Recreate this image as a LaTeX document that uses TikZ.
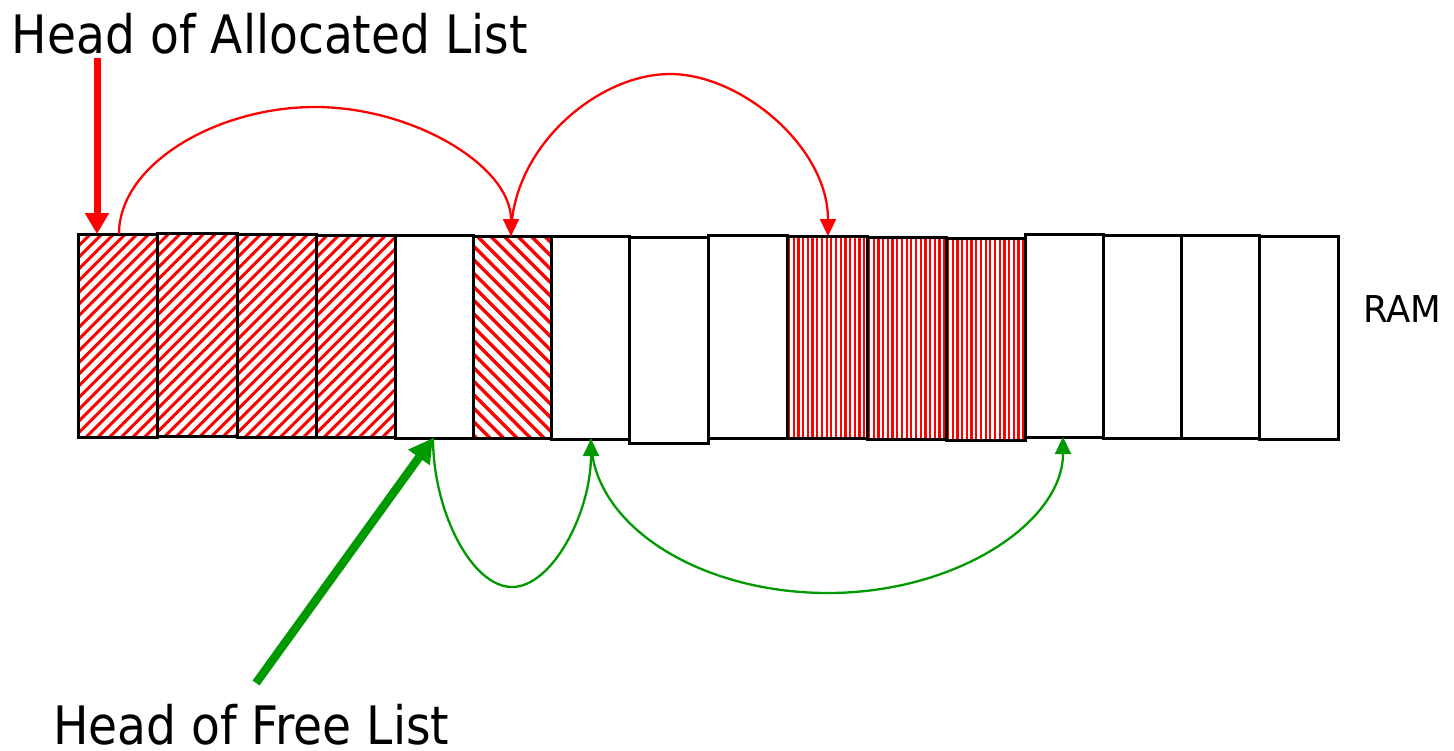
\documentclass[tikz,border=0pt]{standalone}
\usepackage{fontspec}
\newfontfamily\lblfont[FakeStretch=0.89]{DejaVu Sans}
\newfontfamily\ramfont[FakeStretch=0.96]{DejaVu Sans}
\usetikzlibrary{arrows.meta,fit,calc}
\definecolor{grn}{RGB}{0,153,0}
\begin{document}
\begin{tikzpicture}[x=1pt,y=-1pt,
  cell/.style={draw=black,line width=3pt,inner sep=0pt,outer sep=0pt},
  stripeA/.style={draw=red,line width=3pt},
  stripeB/.style={draw=red,line width=3.4pt},
  stripeC/.style={draw=red,line width=2.2pt},
  redlink/.style={draw=red,line width=2.3pt,-{Triangle[length=17pt,width=16pt]}},
  greenlink/.style={draw=grn,line width=2.3pt,-{Triangle[length=17pt,width=16pt]}},
  redhead/.style={draw=red,line width=7pt,-{Triangle[length=21pt,width=23pt]}},
  greenhead/.style={draw=grn,line width=8.5pt,-{Triangle[length=24pt,width=25pt]}},
  lbl/.style={inner sep=0pt,outer sep=0pt,font=\lblfont\fontsize{53}{60}\selectfont},
  ramlbl/.style={inner sep=0pt,outer sep=0pt,font=\ramfont\fontsize{37}{44}\selectfont}
]
\useasboundingbox (0,0) rectangle (1454,750);

% red stripes of the allocated cells
\foreach \xa/\xb/\ya/\yb in {78/157/234/437, 157/237/233/436, 237/316/234/437, 316/395/235/437}
{
  \begin{scope}
    \clip (\xa,\ya) rectangle (\xb,\yb);
    \foreach \k in {0,...,28} \draw[stripeA] (\xa-214+\k*11.7,\yb) -- ++(230,-230);
  \end{scope}
}
\begin{scope}
  \clip (473,236) rectangle (551,438);
  \foreach \k in {0,...,24} \draw[stripeB] (473-212+\k*13.5,236) -- ++(230,230);
\end{scope}
\foreach \xa/\xb/\ya/\yb in {787/867/236/438, 867/946/237/439, 946/1025/238/440}
{
  \begin{scope}
    \clip (\xa,\ya) rectangle (\xb,\yb);
    \foreach \k in {0,...,17} \draw[stripeC] (\xa+2+\k*4.7,\ya) -- (\xa+2+\k*4.7,\yb);
  \end{scope}
}

% the memory cells
\foreach \i/\xa/\xb/\ya/\yb in {
  1/78/157/234/437,
  2/157/237/233/436,
  3/237/316/234/437,
  4/316/395/235/437,
  5/395/473/235/438,
  6/473/551/236/438,
  7/551/629/236/439,
  8/629/708/237/443,
  9/708/787/235/438,
  10/787/867/236/438,
  11/867/946/237/439,
  12/946/1025/238/440,
  13/1025/1103/234/437,
  14/1103/1181/235/438,
  15/1181/1259/235/438,
  16/1259/1338/236/439}
{
  \coordinate (nw\i) at (\xa,\ya);
  \coordinate (se\i) at (\xb,\yb);
  \node[cell,fit=(nw\i)(se\i)] (b\i) {};
}

% labels
\node[lbl,anchor=base west] (tA) at (12,53) {Head of Allocated List};
\node[lbl,anchor=base west] (tF) at (53,744) {Head of Free List};
\node[ramlbl,anchor=base west] (ram) at (1363,322) {RAM};

% connector end points on the cells
\coordinate (r1s) at ($(b1.north west)+(41,0)$);
\coordinate (r1e) at ($(b6.north west)+(38,0)$);
\coordinate (r2e) at ($(b10.north west)+(41,0)$);
\coordinate (g1s) at ($(b5.south west)+(38,0)$);
\coordinate (g1e) at ($(b7.south west)+(40,0)$);
\coordinate (g2e) at ($(b13.south west)+(38,0)$);
\coordinate (ha) at (97,58);
\coordinate (hf) at (256,683);

% heads
\draw[redhead] (ha) -- ($(b1.north west)+(19,0)$);
\draw[greenhead] (hf) -- (g1s);

% allocated list links
\draw[redlink] (r1s) .. controls (119,164) and (217,107) .. (315,107)
  .. controls (413,107) and (511,166) .. (r1e);
\draw[redlink] (r1e) .. controls (511,147) and (598,74) .. (670,74)
  .. controls (741,74) and (828,147) .. (r2e);

% free list links
\draw[greenlink] (g1s) .. controls (433,512) and (472,587) .. (512,587)
  .. controls (552,587) and (591,513) .. (g1e);
\draw[greenlink] (g1e) .. controls (591,524) and (698,593) .. (828,593)
  .. controls (957,593) and (1063,522) .. (g2e);
\end{tikzpicture}
\end{document}
